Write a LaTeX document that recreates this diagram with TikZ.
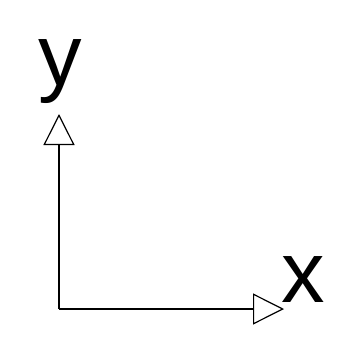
\documentclass[tikz,border=0pt]{standalone}
\usepackage{fontspec}
\setmainfont{Liberation Sans}
\usepackage{tikz}
\usetikzlibrary{arrows.meta}

\begin{document}
\begin{tikzpicture}[x=1pt,y=-1pt,
    axis/.style={line width=1.2pt,-{Triangle[open,length=31pt,width=31pt,line width=1.2pt]}},
    lbl/.style={anchor=base,font=\fontsize{87}{87}\selectfont,inner sep=0pt}]
    \useasboundingbox (0,0) rectangle (349,362);
    \coordinate (o) at (59,309);
    \coordinate (ytip) at (59,114);
    \coordinate (xtip) at (284,309);
    \draw[axis] (o)--(ytip);
    \draw[axis] (o)--(xtip);
    \node[lbl] (ylbl) at (60,85){y};
    \node[lbl] (xlbl) at (303.5,302){x};
\end{tikzpicture}
\end{document}
